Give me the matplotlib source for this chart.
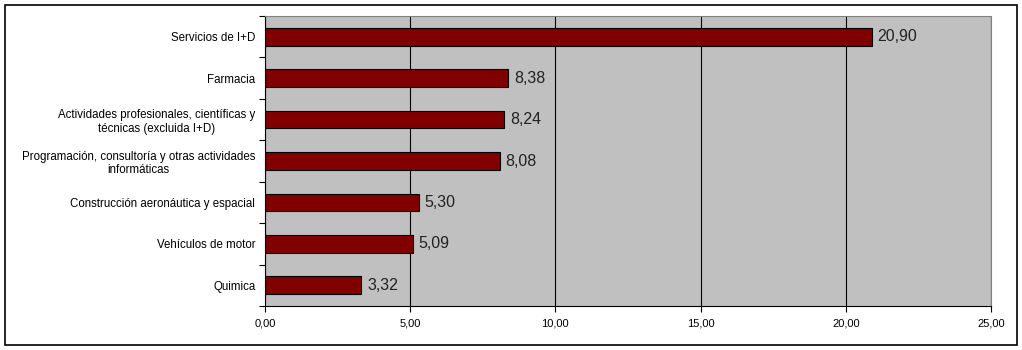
import numpy as np
import matplotlib.pyplot as plt
from matplotlib.patches import Rectangle

plt.rcParams['font.family'] = ['Liberation Sans', 'DejaVu Sans']

categories = ["Servicios de I+D",
              "Farmacia",
              "Actividades profesionales, científicas y\ntécnicas (excluida I+D)",
              "Programación, consultoría y otras actividades\ninformáticas",
              "Construcción aeronáutica y espacial",
              "Vehículos de motor",
              "Quimica"]
values = [20.90, 8.38, 8.24, 8.08, 5.30, 5.09, 3.32]
xticks = [0, 5, 10, 15, 20, 25]

fig = plt.figure(figsize=(10.22, 3.5), dpi=100)
ax = fig.add_axes([265/1022, 1 - 306/350, (991-265)/1022, (306-16)/350])
fig.patches.append(Rectangle((5/1022, 5/350), 1012/1022, 340/350, transform=fig.transFigure,
                             fill=False, edgecolor='black', linewidth=1.2))

y = np.arange(len(categories))[::-1]
ax.set_facecolor('#c0c0c0')
ax.barh(y, values, height=0.43, color='#800000', edgecolor='black', linewidth=0.8, zorder=3)
for yi, v in zip(y, values):
    ax.text(v + 0.2, yi, f"{v:.2f}".replace('.', ','), va='center', ha='left', fontsize=11.5, color='#222222')

ax.set_xlim(0, 25)
ax.set_ylim(-0.5, len(categories) - 0.5)
ax.set_xticks(xticks)
ax.set_xticklabels([f"{t:.2f}".replace('.', ',') for t in xticks], fontsize=8)
ax.set_yticks(y)
ax.set_yticklabels(categories, fontsize=8.3, multialignment='center')
ax.set_yticks(np.arange(len(categories) + 1) - 0.5, minor=True)
ax.tick_params(axis='y', which='major', length=0, pad=7)
ax.tick_params(axis='y', which='minor', length=4, direction='out', width=0.8)
ax.tick_params(axis='x', length=4, direction='out', width=0.8, pad=5)
ax.grid(axis='x', color='black', linewidth=0.8, zorder=1)
ax.set_axisbelow(True)
for s in ['top', 'right']:
    ax.spines[s].set_color('#808080')
for s in ['left', 'bottom']:
    ax.spines[s].set_color('black')

fig.savefig('out.png', dpi=100)
